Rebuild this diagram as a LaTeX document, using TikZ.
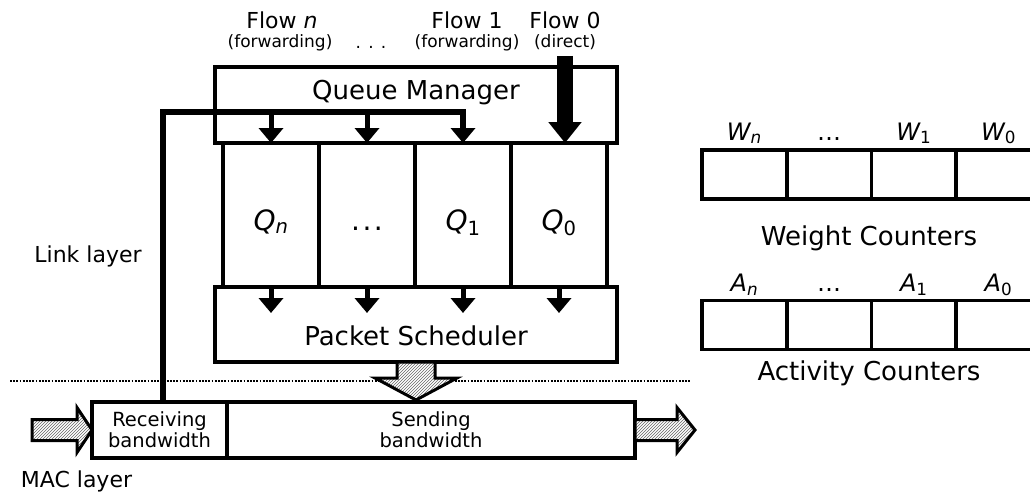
\documentclass[tikz,border=0pt]{standalone}
\usepackage{fontspec}
\setmainfont{DejaVu Sans}
\usetikzlibrary{arrows.meta,positioning,patterns}

\begin{document}
\begin{tikzpicture}[x=1pt,y=-1pt,node distance=96pt]

\tikzstyle{box}=[draw,line width=3.5pt,inner sep=0pt,outer sep=0pt]
\tikzstyle{queue}=[box,minimum width=96pt,minimum height=144pt,text height=30pt,text depth=0pt,font=\fontsize{28}{32}\selectfont\itshape]
\tikzstyle{cell}=[box,minimum width=84.7pt,minimum height=49pt]
\tikzstyle{title}=[anchor=base,font=\fontsize{26}{30}\selectfont]
\tikzstyle{flow}=[anchor=base,font=\fontsize{22}{26}\selectfont]
\tikzstyle{note}=[anchor=base,font=\fontsize{17}{20}\selectfont]
\tikzstyle{tag}=[anchor=base,font=\fontsize{24}{28}\selectfont\itshape]
\tikzstyle{bw}=[box,minimum height=56pt,align=center,font=\fontsize{19.5}{21}\selectfont]
\tikzstyle{feed}=[line width=5pt,-{Triangle[width=24pt,length=15pt]}]
\tikzstyle{hatch}=[draw,line width=3pt,pattern=north east lines,pattern color=black!60,preaction={fill=white}]

\clip (0,0) rectangle (1030,491);

%flows coming in
\node[flow] (fn) at (282,28) {Flow \textit{n}};
\node[note] (fnx) at (280,47) {(forwarding)};
\node[note] (fdots) at (371,48) {. . .};
\node[flow] (f1) at (467,28) {Flow 1};
\node[note] (f1x) at (467,47) {(forwarding)};
\node[flow] (f0) at (565,28) {Flow 0};
\node[note] (f0x) at (565,47) {(direct)};

%queues
\node[queue] (qn) at (271,215) {Q\textsubscript{n}};
\node[queue] (qdots) [right of=qn] {\textup{.\kern2.5pt.\kern2.5pt.}};
\node[queue] (q1) [right of=qdots] {Q\textsubscript{\textup{1}}};
\node[queue] (q0) [right of=q1] {Q\textsubscript{\textup{0}}};

%queue manager and scheduler
\node[box,minimum width=402pt,minimum height=76pt] (qm) at (416,105) {};
\node[title] (qmtext) at (416,99) {Queue Manager};
\node[box,minimum width=402pt,minimum height=75pt] (ps) at (416,324.5) {};
\node[title] (pstext) at (416,345) {Packet Scheduler};

%layers
\node[flow] (link) at (88,262) {Link layer};
\node[flow] (mac) at (76.5,487) {MAC layer};
\draw[line width=2.6pt,dash pattern=on 1.7pt off 1.5pt] (10,381) -- (690,381);

%bandwidth
\node[bw,minimum width=135pt] (recv) at (159.5,430) {Receiving\\bandwidth};
\node[bw,minimum width=408pt,right=0pt of recv] (send) {Sending\\bandwidth};

%weight counters
\node[cell] (wn) at (744.4,174.5) {};
\node[cell,node distance=84.7pt] (wdots) [right of=wn] {};
\node[cell,node distance=84.7pt] (w1) [right of=wdots] {};
\node[cell,node distance=84.7pt] (w0) [right of=w1] {};
\node[tag] (wnl) at ([yshift=10pt]wn.north) {W\textsubscript{n}};
\node[tag] (wdl) at ([yshift=10pt]wdots.north) {\textup{\dots}};
\node[tag] (w1l) at ([yshift=10pt]w1.north) {W\textsubscript{\textup{1}}};
\node[tag] (w0l) at ([yshift=10pt]w0.north) {W\textsubscript{\textup{0}}};
\node[title] (wtext) at (869,245) {Weight Counters};

%activity counters
\node[cell] (an) at (744.4,325) {};
\node[cell,node distance=84.7pt] (adots) [right of=an] {};
\node[cell,node distance=84.7pt] (a1) [right of=adots] {};
\node[cell,node distance=84.7pt] (a0) [right of=a1] {};
\node[tag] (anl) at ([yshift=9pt]an.north) {A\textsubscript{n}};
\node[tag] (adl) at ([yshift=9pt]adots.north) {\textup{\dots}};
\node[tag] (a1l) at ([yshift=9pt]a1.north) {A\textsubscript{\textup{1}}};
\node[tag] (a0l) at ([yshift=9pt]a0.north) {A\textsubscript{\textup{0}}};
\node[title] (atext) at (869,380) {Activity Counters};

%direct flow
\draw[line width=16pt,-{Triangle[width=32pt,length=21pt]}] ([yshift=-3pt]f0x.south) -- (f0x.south |- q0.north);

%forwarded flows back from receiving
\coordinate (split) at (163,112);
\draw[feed,line width=5.5pt] ([xshift=3.5pt]recv.north) -- (split) -| (q1.north);
\draw[feed] (split -| qn.north) -- (qn.north);
\draw[feed] (split -| qdots.north) -- (qdots.north);

%queues to scheduler
\draw[feed] (qn.south) -- ([yshift=-26pt]qn.south);
\draw[feed] (qdots.south) -- ([yshift=-26pt]qdots.south);
\draw[feed] (q1.south) -- ([yshift=-26pt]q1.south);
\draw[feed] (q0.south) -- ([yshift=-26pt]q0.south);

%hatched arrows
\draw[hatch] ([xshift=-19pt]ps.south) -- ++(0,16) -- ++(-22,0) -- ++(41,22) -- ++(41,-22) -- ++(-22,0) -- ([xshift=19pt]ps.south) -- cycle;
\draw[hatch] (recv.west) -- ++(-15,-22.5) -- ++(0,12) -- ++(-45,0) -- ++(0,21) -- ++(45,0) -- ++(0,12) -- cycle;
\draw[hatch] ([yshift=10.5pt]send.east) -- ++(42,0) -- ++(0,-12) -- ++(18,22.5) -- ++(-18,22.5) -- ++(0,-12) -- ++(-42,0) -- cycle;

\end{tikzpicture}
\end{document}
